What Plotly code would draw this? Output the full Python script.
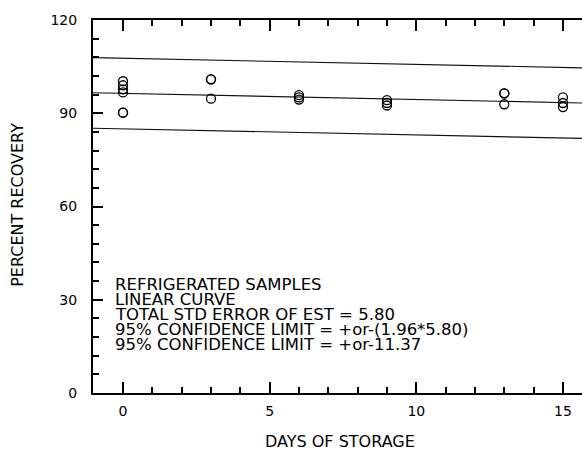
import plotly.graph_objects as go

# ---- data ----
days = [0, 0, 0, 0, 0, 0,
        3, 3, 3,
        6, 6, 6,
        9, 9, 9,
        13, 13, 13,
        15, 15, 15]
recovery = [100.3, 99.0, 97.7, 96.7, 90.2, 90.2,
            100.9, 100.9, 94.7,
            95.8, 95.1, 94.4,
            94.2, 93.3, 92.5,
            96.4, 96.4, 92.9,
            95.1, 93.3, 92.0]

fit_x = [-1.05, 15.7]
fit_y = [96.6, 93.3]
upper_y = [107.9, 104.6]
lower_y = [85.2, 81.9]

note_lines = [
    "REFRIGERATED SAMPLES",
    "LINEAR CURVE",
    "TOTAL STD ERROR OF EST = 5.80",
    "95% CONFIDENCE LIMIT = +or-(1.96*5.80)",
    "95% CONFIDENCE LIMIT = +or-11.37",
]
note_y = [34.8, 30.0, 25.2, 20.4, 15.6]

x_ticks = [0, 5, 10, 15]
y_ticks = [0, 30, 60, 90, 120]

FONT = "DejaVu Sans"

fig = go.Figure()
for yy in (upper_y, fit_y, lower_y):
    fig.add_trace(go.Scatter(x=fit_x, y=yy, mode="lines",
                             line=dict(color="#111", width=1.1),
                             hoverinfo="skip", showlegend=False))
fig.add_trace(go.Scatter(x=days, y=recovery, mode="markers",
                         marker=dict(symbol="circle-open", size=9,
                                     color="#000", line=dict(width=1.3)),
                         showlegend=False))

for txt, yv in zip(note_lines, note_y):
    fig.add_annotation(x=-0.34, y=yv, xref="x", yref="y", text=txt,
                       showarrow=False, xanchor="left", yanchor="middle",
                       font=dict(family=FONT, size=16.5, color="#000"))

fig.add_annotation(x=0.505, y=-0.129, xref="paper", yref="paper",
                   text="DAYS OF STORAGE", showarrow=False,
                   xanchor="center", yanchor="middle",
                   font=dict(family=FONT, size=16, color="#000"))
fig.add_annotation(x=-0.155, y=0.505, xref="paper", yref="paper",
                   text="PERCENT RECOVERY", showarrow=False, textangle=-90,
                   xanchor="center", yanchor="middle",
                   font=dict(family=FONT, size=16, color="#000"))

fig.update_xaxes(range=[-1.023, 15.65], tickvals=x_ticks,
                 ticks="inside", ticklen=11, tickwidth=1.5, tickcolor="#000",
                 minor=dict(dtick=1, tick0=0, ticks="inside", ticklen=6,
                            tickwidth=1.5, tickcolor="#000"),
                 showline=True, linewidth=2, linecolor="#000", mirror="ticks",
                 showgrid=False, zeroline=False, ticklabelstandoff=4,
                 tickfont=dict(family=FONT, size=14, color="#000"))
fig.update_yaxes(range=[0, 120], tickvals=y_ticks,
                 ticks="inside", ticklen=10, tickwidth=1.5, tickcolor="#000",
                 minor=dict(dtick=6, tick0=0, ticks="inside", ticklen=6,
                            tickwidth=1.5, tickcolor="#000"),
                 showline=True, linewidth=2, linecolor="#000", mirror=False,
                 showgrid=False, zeroline=False, ticklabelstandoff=11,
                 tickfont=dict(family=FONT, size=14, color="#000"))

fig.update_layout(width=582, height=458,
                  margin=dict(l=93, r=0, t=20, b=65),
                  paper_bgcolor="#fff", plot_bgcolor="#fff",
                  showlegend=False)

fig.write_html("out.html")
